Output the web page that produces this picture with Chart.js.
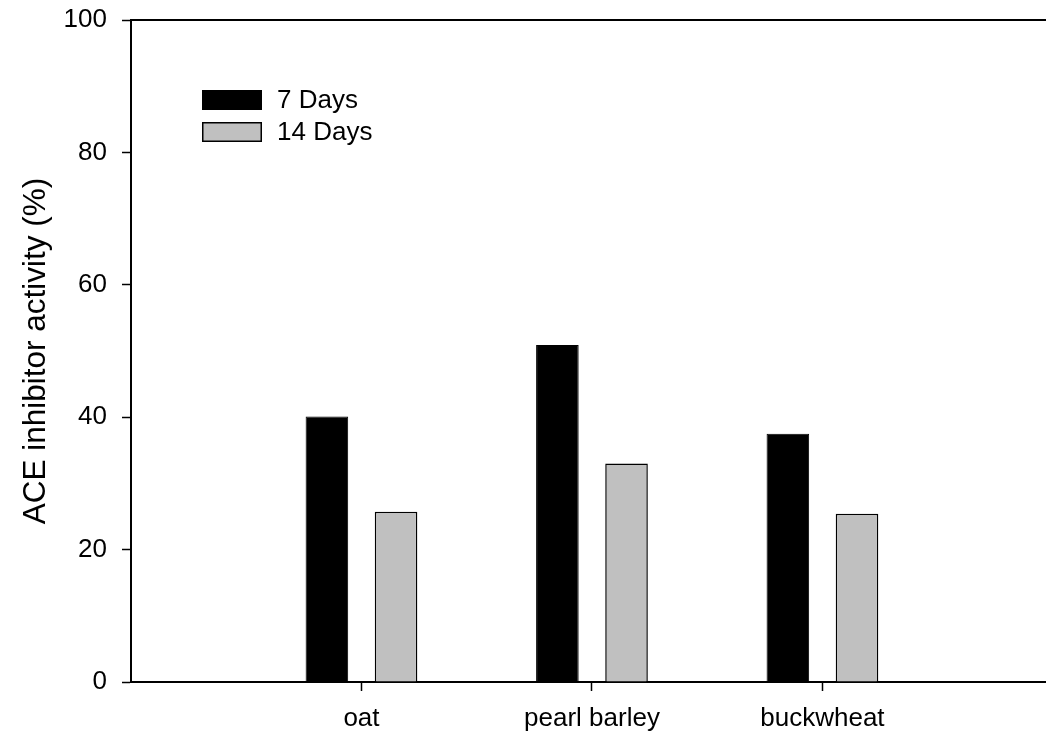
<!DOCTYPE html>
<html><head><meta charset="utf-8">
<script src="https://cdn.jsdelivr.net/npm/chart.js@4"></script>
<style>html,body{margin:0;padding:0;background:#fff;overflow:hidden}#wrap{width:1046px;height:735px;position:relative}</style>
</head><body><div id="wrap"><canvas id="c"></canvas></div>
<script>
const categories = ['oat', 'pearl barley', 'buckwheat'];
const days7 = [40.1, 50.9, 37.5];
const days14 = [25.7, 33.0, 25.4];
const seriesLabels = ['7 Days', '14 Days'];
const yTitle = 'ACE inhibitor activity (%)';

const FONT = "'Liberation Sans', Arial, sans-serif";

const frameLegend = {
  id: 'frameLegend',
  afterDraw(chart) {
    const ctx = chart.ctx, a = chart.chartArea;
    ctx.save();
    ctx.strokeStyle = '#000';
    ctx.lineWidth = 2;
    ctx.beginPath();
    ctx.moveTo(a.left, a.top);
    ctx.lineTo(chart.width, a.top);
    ctx.stroke();
    const boxX = 202, boxW = 60, boxH = 20, ys = [90, 122];
    chart.data.datasets.forEach((ds, i) => {
      ctx.fillStyle = ds.backgroundColor;
      ctx.fillRect(boxX, ys[i], boxW, boxH);
      ctx.lineWidth = 1.5;
      ctx.strokeStyle = '#000';
      ctx.strokeRect(boxX + 0.75, ys[i] + 0.75, boxW - 1.5, boxH - 1.5);
      ctx.fillStyle = '#000';
      ctx.font = '26px ' + FONT;
      ctx.textBaseline = 'middle';
      ctx.textAlign = 'left';
      ctx.fillText(ds.label, 277, ys[i] + boxH / 2 + 1);
    });
    ctx.restore();
  }
};

new Chart(document.getElementById('c'), {
  type: 'bar',
  data: {
    datasets: [
      { label: seriesLabels[0], data: days7.map((v, i) => ({ x: i + 1, y: v })),
        backgroundColor: '#000000', borderColor: '#000000', borderWidth: 1 },
      { label: seriesLabels[1], data: days14.map((v, i) => ({ x: i + 1, y: v })),
        backgroundColor: '#c0c0c0', borderColor: '#000000', borderWidth: 1.5 }
    ]
  },
  options: {
    responsive: true,
    maintainAspectRatio: false,
    animation: false,
    categoryPercentage: 0.6,
    barPercentage: 0.616,
    layout: { padding: 0 },
    plugins: { legend: { display: false }, tooltip: { enabled: false } },
    scales: {
      x: {
        type: 'linear',
        min: 0,
        max: 3.97,
        offset: false,
        afterBuildTicks(scale) { scale.ticks = categories.map((c, i) => ({ value: i + 1 })); },
        afterFit(scale) { scale.height = 53; scale.paddingLeft = 0; scale.paddingRight = 0; },
        grid: { offset: false, drawOnChartArea: false, drawTicks: true, tickLength: 9, tickWidth: 1.5, tickColor: '#000' },
        border: { color: '#000', width: 2 },
        ticks: {
          autoSkip: false, maxRotation: 0, padding: 12, color: '#000',
          font: { family: FONT, size: 26 },
          callback: (v) => categories[Math.round(v) - 1] || ''
        }
      },
      y: {
        min: 0, max: 100,
        afterFit(scale) { scale.width = 131; scale.paddingTop = 20; scale.paddingBottom = 0; },
        grid: { drawOnChartArea: false, drawTicks: true, tickLength: 9, tickWidth: 1.5, tickColor: '#000' },
        border: { color: '#000', width: 2 },
        ticks: { stepSize: 20, padding: 15, color: '#000', font: { family: FONT, size: 26 } },
        title: { display: true, text: yTitle, color: '#000', font: { family: FONT, size: 31.5 }, padding: { top: 17, bottom: 0 } }
      }
    }
  },
  plugins: [frameLegend]
});
</script>
</body></html>
